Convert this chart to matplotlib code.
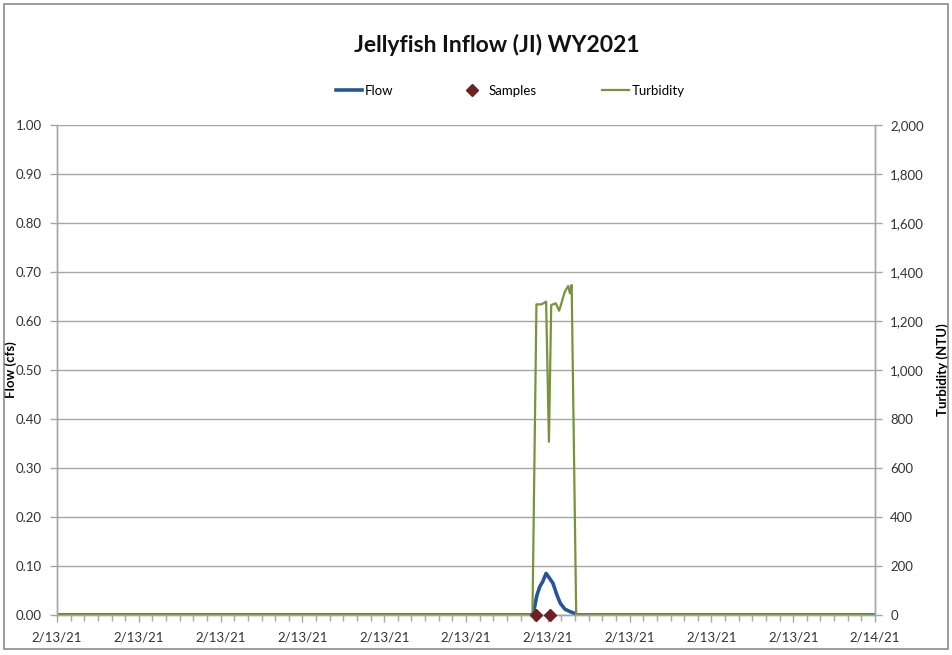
import numpy as np
import matplotlib
matplotlib.use("Agg")
import matplotlib.pyplot as plt
from matplotlib.ticker import FuncFormatter, MultipleLocator

# data (minutes after midnight on 2/13/21)
flow_min = [0, 838, 845, 850, 855, 861, 867, 873, 880, 886, 894, 903, 912, 915, 1440]
flow_cfs = [0, 0, 0.041, 0.058, 0.068, 0.085, 0.075, 0.065, 0.041, 0.024, 0.012, 0.007, 0.003, 0, 0]

turb_min = [0, 837, 844, 853, 861, 866, 870, 878, 884, 894, 900, 903, 906, 914, 1440]
turb_ntu = [0, 0, 1268, 1268, 1279, 707, 1265, 1272, 1242, 1320, 1343, 1313, 1347, 0, 0]

sample_min = [844, 868]
sample_val = [0, 0]

tick_min = np.arange(0, 1441, 144)
tick_labels = ["2/13/21"] * 10 + ["2/14/21"]

plt.rcParams['font.family'] = ['Lato', 'DejaVu Sans']

fig = plt.figure(figsize=(9.53, 6.55), dpi=100)
ax = fig.add_axes([57 / 953, 1 - 615 / 655, (875 - 57) / 953, (615 - 125) / 655])
ax2 = ax.twinx()

# border round the chart
fig.patches.append(plt.Rectangle((4 / 953, 6 / 655), 944 / 953, 645 / 655, transform=fig.transFigure,
                                 fill=False, edgecolor='#8c8c8c', linewidth=1.2))

grid_c = '#a6a6a6'
l1, = ax.plot(flow_min, flow_cfs, color='#2A5594', linewidth=2.6, label='Flow')
l3, = ax2.plot(turb_min, turb_ntu, color='#77933C', linewidth=1.6, label='Turbidity')
l2, = ax2.plot(sample_min, sample_val, linestyle='none', marker='D', markersize=6,
               color='#6B2222', label='Samples', zorder=5, clip_on=False)

ax.set_xlim(0, 1440)
ax.set_ylim(0, 1.0)
ax2.set_ylim(0, 2000)
ax.set_yticks(np.arange(0, 1.01, 0.1))
ax2.set_yticks(np.arange(0, 2001, 200))
ax.yaxis.set_major_formatter(FuncFormatter(lambda v, p: f"{v:.2f}"))
ax2.yaxis.set_major_formatter(FuncFormatter(lambda v, p: f"{v:,.0f}"))
ax.set_xticks(tick_min)
ax.set_xticklabels(tick_labels)
ax.xaxis.set_minor_locator(MultipleLocator(24))

ax.grid(axis='y', color=grid_c, linewidth=1.0)
ax.set_axisbelow(True)
for a in (ax, ax2):
    a.spines['top'].set_visible(False)
    for s in ('left', 'right', 'bottom'):
        a.spines[s].set_color(grid_c)
        a.spines[s].set_linewidth(1.0)
    a.tick_params(colors=grid_c, labelcolor='#333333', labelsize=9.5, length=5, width=1.0)
ax.tick_params(axis='x', which='minor', length=4, color=grid_c, width=1.0)
ax.tick_params(axis='x', pad=7)
ax2.tick_params(axis='y', pad=6)
ax.tick_params(axis='y', pad=6)

ax.set_ylabel('Flow (cfs)', fontsize=9.5, fontweight='bold')
ax2.set_ylabel('Turbidity (NTU)', fontsize=9.5, fontweight='bold')
ax.yaxis.set_label_coords(-0.049, 0.5)
ax2.yaxis.set_label_coords(1.0746, 0.5)

fig.text(497 / 953, 1 - 45 / 655, 'Jellyfish Inflow (JI) WY2021', ha='center', va='center',
         fontsize=16.5, fontweight='bold', color='#111111')

fig.legend(handles=[l1, l2, l3], loc='center', bbox_to_anchor=(510 / 953, 1 - 91 / 655), ncol=3,
           frameon=False, fontsize=9.5, handlelength=2.0, handletextpad=0.2, columnspacing=5.0)

fig.savefig('out.png', dpi=100)
